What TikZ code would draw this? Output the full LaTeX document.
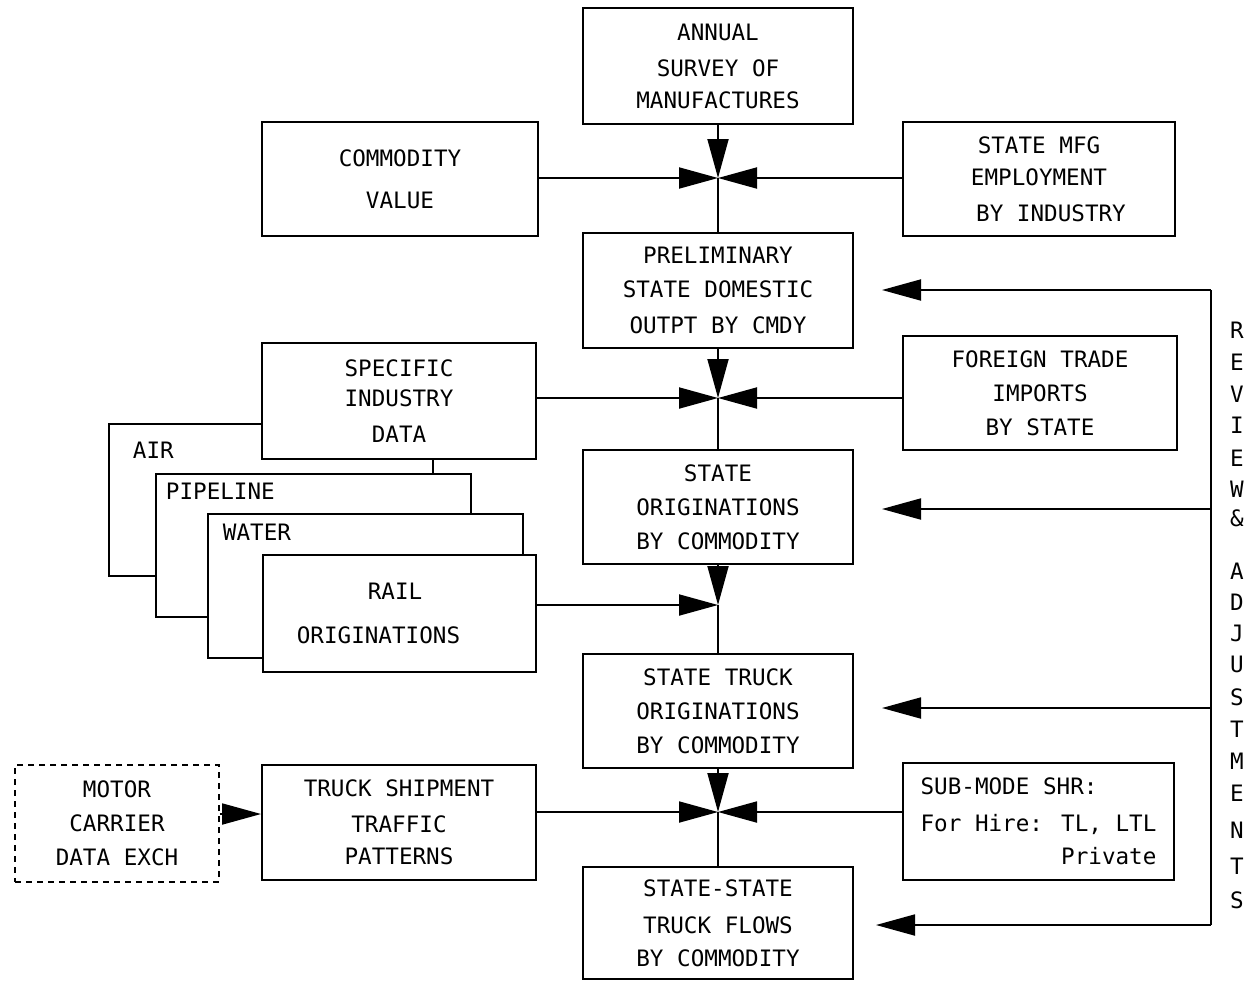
\documentclass[tikz,border=0pt]{standalone}
\usepackage{fontspec}
\newfontfamily\plotfont{DejaVu Sans Mono}
\usetikzlibrary{arrows.meta,calc}

\begin{document}
\begin{tikzpicture}[x=0.5pt,y=-0.5pt,
  line width=0.95pt,
  every node/.style={font=\plotfont\fontsize{11.3}{17}\selectfont, inner sep=0pt},
  box/.style={draw, rectangle, align=center, line width=0.95pt, fill=white},
  dbox/.style={box, dash pattern=on 3pt off 2.5pt},
  tri/.style={-{Triangle[length=19.5pt,width=10.5pt]}},
  lbl/.style={anchor=west}]

\useasboundingbox (0,0) rectangle (1256,980);

% ---- main column ----
\node[box, minimum width=135pt, minimum height=58pt] (annual) at (718,66)
  {ANNUAL\\[1pt]SURVEY OF\\[-1pt]MANUFACTURES};
\node[box, minimum width=135pt, minimum height=57.5pt] (prelim) at (718,290.5)
  {PRELIMINARY\\STATE DOMESTIC\\[1pt]OUTPT BY CMDY};
\node[box, minimum width=135pt, minimum height=57pt] (sorig) at (718,507)
  {STATE\\ORIGINATIONS\\BY COMMODITY};
\node[box, minimum width=135pt, minimum height=57pt] (struck) at (718,711)
  {STATE TRUCK\\ORIGINATIONS\\BY COMMODITY};
\node[box, minimum width=135pt, minimum height=56pt] (ss) at (718,923)
  {STATE-STATE\\[1.5pt]TRUCK FLOWS\\[-0.5pt]BY COMMODITY};

% ---- side inputs ----
\node[box, minimum width=138pt, minimum height=57pt] (cval) at (400,179)
  {COMMODITY\\[4pt]VALUE};
\node[box, minimum width=136pt, minimum height=57pt] (mfg) at (1039,179)
  {STATE MFG\\[-1pt]EMPLOYMENT\\[1pt]\hspace*{12pt}BY INDUSTRY};
\node[box, minimum width=137pt, minimum height=58pt] (spec) at (399,401)
  {SPECIFIC\\[-2pt]INDUSTRY\\[1pt]DATA};
\node[box, minimum width=137pt, minimum height=57pt] (foreign) at (1040,393)
  {FOREIGN TRADE\\IMPORTS\\BY STATE};

% ---- stacked modal boxes behind RAIL ----
\draw (262,424) -- (109,424) -- (109,576) -- (156,576);
\draw (471,514) -- (471,474) -- (156,474) -- (156,617) -- (208,617);
\draw (523,555) -- (523,514) -- (208,514) -- (208,658) -- (263,658);
\node[lbl] (airlbl) at (132,450) {AIR};
\node[lbl] (pipelbl) at (165,491) {PIPELINE};
\node[lbl] (waterlbl) at (222,532) {WATER};
\node[box, minimum width=136.5pt, minimum height=58.5pt] (rail) at (399.5,613.5)
  {RAIL\hspace*{4.5pt}\\[5pt]ORIGINATIONS\hspace*{21pt}};
\coordinate (pipetop) at (433,474);
\draw (pipetop |- spec.south) -- (pipetop);

% ---- truck inputs ----
\node[dbox, minimum width=102pt, minimum height=58.5pt] (motor) at (117,823.5)
  {MOTOR\\CARRIER\\DATA EXCH};
\node[box, minimum width=137pt, minimum height=57.5pt] (tship) at (399,822.5)
  {TRUCK SHIPMENT\\[1pt]TRAFFIC\\[-1pt]PATTERNS};
\node[box, minimum width=135.5pt, minimum height=58.5pt, align=left] (sub) at (1038.5,821.5)
  {SUB-MODE SHR:\\[1.5pt]For Hire: TL, LTL\\[-0.5pt]\hphantom{For Hire: }Private};

% ---- junctions ----
\coordinate (j1) at (718,178);
\coordinate (j2) at (718,398);
\coordinate (j3) at (718,605);
\coordinate (j4) at (718,812);

\draw[tri] (annual.south) -- (j1);
\draw[tri] (cval.east |- j1) -- (j1);
\draw[tri] (mfg.west |- j1) -- (j1);
\draw (j1) -- (prelim.north);

\draw[tri] (prelim.south) -- (j2);
\draw[tri] (spec.east |- j2) -- (j2);
\draw[tri] (foreign.west |- j2) -- (j2);
\draw (j2) -- (sorig.north);

\draw[tri] (sorig.south) -- (j3);
\draw[tri] (rail.east |- j3) -- (j3);
\draw (j3) -- (struck.north);

\draw[tri] (struck.south) -- (j4);
\draw[tri] (tship.east |- j4) -- (j4);
\draw[tri] (sub.west |- j4) -- (j4);
\draw (j4) -- (ss.north);

\coordinate (mcy) at (0,814);
\draw[tri] (motor.east |- mcy) -- (tship.west |- mcy);

% ---- review & adjustments feedback ----
\coordinate (r1) at (1211,290);
\coordinate (r2) at (1211,509);
\coordinate (r3) at (1211,708);
\coordinate (r4) at (1211,925);
\coordinate (t1) at (882,290);
\coordinate (t2) at (882,509);
\coordinate (t3) at (882,708);
\coordinate (t4) at (876,925);
\draw (r1) -- (r4);
\draw[tri] (r1) -- (t1);
\draw[tri] (r2) -- (t2);
\draw[tri] (r3) -- (t3);
\draw[tri] (r4) -- (t4);

\foreach \ch/\yy [count=\i] in {R/330, E/362, V/394, I/425, E/458, W/489, \&/518,
    A/571, D/602, J/633, U/664, S/697, T/729, M/761, E/793, N/830, T/866, S/900}
  \node (rv\i) at (1237,\yy) {\ch};

\end{tikzpicture}
\end{document}
